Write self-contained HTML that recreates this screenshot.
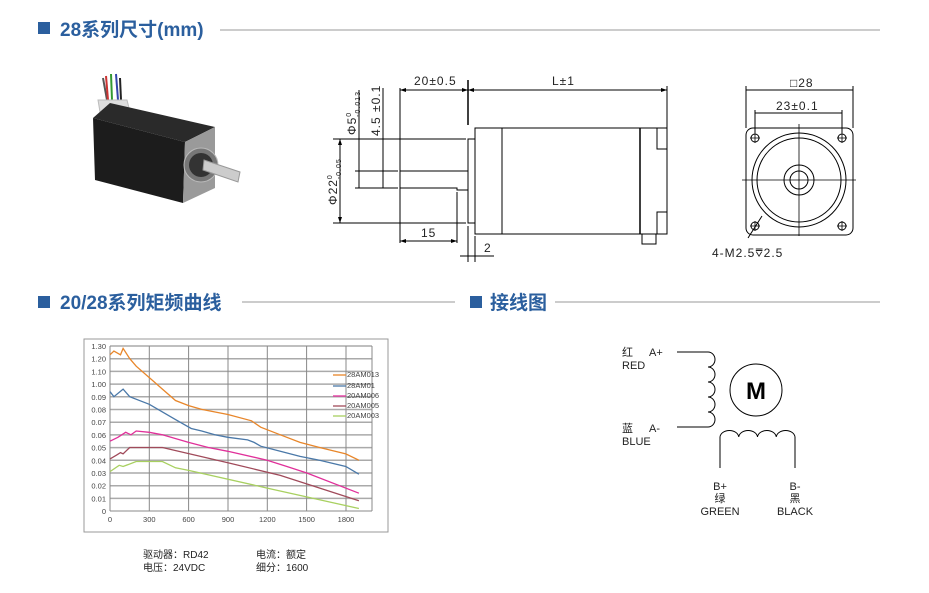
<!DOCTYPE html>
<html><head><meta charset="utf-8"><style>
body{margin:0;background:#fff;width:929px;height:593px;overflow:hidden}
svg{display:block}
.h{font-family:"Liberation Sans","Noto Sans CJK SC",sans-serif;font-weight:bold;font-size:19px;fill:#2b5f9e}
.t{font-family:"Liberation Sans","Noto Sans CJK SC",sans-serif;fill:#222}
.c{font-family:"Liberation Sans",sans-serif;font-size:7.5px;fill:#444}
</style></head><body>
<svg width="929" height="593" viewBox="0 0 929 593">
<!-- headers -->
<rect x="38" y="22" width="12" height="12" fill="#2b5f9e"/>
<text class="h" x="60" y="36">28系列尺寸(mm)</text>
<line x1="220" y1="30" x2="880" y2="30" stroke="#ccc" stroke-width="2"/>
<rect x="38" y="296" width="12" height="12" fill="#2b5f9e"/>
<text class="h" x="60" y="309">20/28系列矩频曲线</text>
<line x1="242" y1="302" x2="455" y2="302" stroke="#ccc" stroke-width="2"/>
<rect x="470" y="296" width="12" height="12" fill="#2b5f9e"/>
<text class="h" x="490" y="309">接线图</text>
<line x1="555" y1="302" x2="880" y2="302" stroke="#ccc" stroke-width="2"/>

<!-- photo -->
<g>
<path d="M103 78 L107 100" stroke="#555" stroke-width="2"/>
<path d="M106 76 L108 100" stroke="#c33" stroke-width="2"/><path d="M111 74 L112 100" stroke="#393" stroke-width="2"/><path d="M116 74 L118 100" stroke="#34a" stroke-width="2"/><path d="M120 78 L121 100" stroke="#222" stroke-width="2"/>
<polygon points="98,100 127,100 130,112 100,112" fill="#ddd" stroke="#bbb"/>
<polygon points="93,118 110,103 215,127 185,142" fill="#2a2a2a"/>
<polygon points="93,118 185,142 183,203 95,180" fill="#1c1c1c"/>
<polygon points="185,142 215,127 215,188 183,203" fill="#9a9a9a"/>
<circle cx="201" cy="165" r="17" fill="#777" stroke="#bbb"/>
<circle cx="201" cy="165" r="12" fill="#333"/>
<polygon points="204,160 240,172 238,182 203,170" fill="#ccc" stroke="#999"/>
</g>

<!-- side dimension drawing -->
<g stroke="#000" stroke-width="1" fill="none">
<rect x="475" y="128" width="192" height="106"/>
<line x1="502" y1="128" x2="502" y2="234"/>
<line x1="640" y1="128" x2="640" y2="234" stroke-width="1.5"/>
<rect x="657" y="128" width="10" height="21"/>
<rect x="657" y="212" width="10" height="22"/>
<rect x="642" y="234" width="14" height="10"/>
<rect x="468" y="139" width="7" height="84"/>
<line x1="333" y1="139" x2="466" y2="139"/><line x1="333" y1="223" x2="466" y2="223"/>
<polyline points="400,171 468,171"/><polyline points="400,188 457,188 457,190 468,190"/>
<line x1="400" y1="88" x2="400" y2="243"/>
<line x1="468" y1="80" x2="468" y2="125" stroke-width="1.5"/>
<line x1="468" y1="226" x2="468" y2="262"/><line x1="475" y1="236" x2="475" y2="262"/>
<line x1="667" y1="86" x2="667" y2="128"/>
<line x1="400" y1="90" x2="667" y2="90"/>
<line x1="457" y1="192" x2="457" y2="243"/>
<line x1="400" y1="241" x2="457" y2="241"/>
<line x1="460" y1="256" x2="494" y2="256"/>
<line x1="340" y1="139" x2="340" y2="223"/>
<line x1="359" y1="90" x2="359" y2="188"/><line x1="355" y1="171" x2="398" y2="171"/><line x1="355" y1="188" x2="398" y2="188"/>
<line x1="383" y1="88" x2="383" y2="188"/>
</g>
<g fill="#000">
<polygon points="400,90 406,88 406,92"/><polygon points="468,90 462,88 462,92"/><polygon points="468,90 474,88 474,92"/><polygon points="667,90 661,88 661,92"/>
<polygon points="400,241 406,239 406,243"/><polygon points="457,241 451,239 451,243"/>
<polygon points="340,139 338,145 342,145"/><polygon points="340,223 338,217 342,217"/>
</g>
<g class="t" font-size="12" letter-spacing="1">
<text x="414" y="85">20±0.5</text><text x="552" y="85">L±1</text>
<text x="421" y="237">15</text><text x="484" y="252">2</text>
<text transform="translate(337,205) rotate(-90)">Φ22<tspan font-size="7" dy="-5">0</tspan><tspan font-size="7" dx="-5" dy="9">-0.05</tspan></text>
<text transform="translate(356,135) rotate(-90)">Φ5<tspan font-size="7" dy="-5">0</tspan><tspan font-size="7" dx="-5" dy="9">-0.013</tspan></text>
<text transform="translate(380,136) rotate(-90)">4.5 ±0.1</text>
</g>

<!-- front view -->
<g stroke="#000" fill="none">
<rect x="746" y="128" width="107" height="107" rx="7"/>
<circle cx="799" cy="180" r="47"/><circle cx="799" cy="180" r="42"/>
<circle cx="799" cy="180" r="15"/><circle cx="799" cy="180" r="9"/>
<line x1="742" y1="180" x2="856" y2="180" stroke-width="0.8"/><line x1="799" y1="124" x2="799" y2="236" stroke-width="0.8"/>
<circle cx="755" cy="138" r="4"/><circle cx="842" cy="138" r="4"/><circle cx="755" cy="226" r="4"/><circle cx="842" cy="226" r="4"/>
<path d="M750 138h10M755 133v10M837 138h10M842 133v10M750 226h10M755 221v10M837 226h10M842 221v10" stroke-width="0.8"/>
<line x1="746" y1="86" x2="746" y2="128"/><line x1="853" y1="86" x2="853" y2="128"/>
<line x1="746" y1="90" x2="853" y2="90"/>
<line x1="755" y1="110" x2="755" y2="133"/><line x1="842" y1="110" x2="842" y2="133"/>
<line x1="755" y1="113" x2="842" y2="113"/>
<line x1="748" y1="238" x2="762" y2="216"/>
</g>
<g class="t" font-size="12" letter-spacing="1"><text x="790" y="87">□28</text><text x="776" y="110">23±0.1</text><text x="712" y="257">4-M2.5⩢2.5</text></g>

<!-- chart -->
<rect x="84" y="339" width="304" height="193" fill="#fff" stroke="#999"/>
<g stroke="#aaa" stroke-width="1.5">
<line x1="110" y1="346" x2="372" y2="346"/><line x1="110" y1="358.7" x2="372" y2="358.7"/><line x1="110" y1="371.4" x2="372" y2="371.4"/><line x1="110" y1="384.1" x2="372" y2="384.1"/><line x1="110" y1="396.8" x2="372" y2="396.8"/><line x1="110" y1="409.5" x2="372" y2="409.5"/><line x1="110" y1="422.2" x2="372" y2="422.2"/><line x1="110" y1="434.9" x2="372" y2="434.9"/><line x1="110" y1="447.6" x2="372" y2="447.6"/><line x1="110" y1="460.3" x2="372" y2="460.3"/><line x1="110" y1="473" x2="372" y2="473"/><line x1="110" y1="485.7" x2="372" y2="485.7"/><line x1="110" y1="498.4" x2="372" y2="498.4"/>
</g>
<g stroke="#888" stroke-width="1">
<line x1="149.3" y1="346" x2="149.3" y2="511"/><line x1="188.6" y1="346" x2="188.6" y2="511"/><line x1="228" y1="346" x2="228" y2="511"/><line x1="267.3" y1="346" x2="267.3" y2="511"/><line x1="306.6" y1="346" x2="306.6" y2="511"/><line x1="346" y1="346" x2="346" y2="511"/><line x1="372" y1="346" x2="372" y2="511"/>
<line x1="110" y1="346" x2="110" y2="511"/><line x1="110" y1="511" x2="372" y2="511"/>
</g>
<g class="c" text-anchor="end">
<text x="106" y="349">1.30</text><text x="106" y="361.7">1.20</text><text x="106" y="374.4">1.10</text><text x="106" y="387.1">1.00</text><text x="106" y="399.8">0.09</text><text x="106" y="412.5">0.08</text><text x="106" y="425.2">0.07</text><text x="106" y="437.9">0.06</text><text x="106" y="450.6">0.05</text><text x="106" y="463.3">0.04</text><text x="106" y="476">0.03</text><text x="106" y="488.7">0.02</text><text x="106" y="501.4">0.01</text><text x="106" y="514">0</text>
</g>
<g class="c" text-anchor="middle"><text x="110" y="522">0</text><text x="149.3" y="522">300</text><text x="188.6" y="522">600</text><text x="228" y="522">900</text><text x="267.3" y="522">1200</text><text x="306.6" y="522">1500</text><text x="346" y="522">1800</text></g>
<g fill="none" stroke-width="1.3">
<polyline stroke="#e8862a" points="110,354.8 113.9,351 120.5,354.8 123.1,348.4 129.7,358.6 136.2,366.2 149.3,377.6 162.4,389.1 175.5,400.5 188.6,405.6 201.7,409.4 227.9,414.5 251.5,420.8 260.7,427.2 280.3,434.8 300,442.4 319.6,447.5 345.8,453.9 358.9,460.2"/>
<polyline stroke="#4a78a8" points="110,391.6 113.9,396.7 123.1,389.1 129.7,396.7 149.3,404.3 162.4,411.9 175.5,419.6 191.2,428.5 201.7,431 214.8,434.8 227.9,437.3 247.6,439.9 254.1,442.4 260.7,446.2 280.3,451.3 300,456.4 319.6,460.2 345.8,466.5 358.9,474.2"/>
<polyline stroke="#e0309a" points="110,441.2 117.9,437.3 125.7,432.3 131,434.8 136.2,431 149.3,432.3 162.4,434.8 188.6,442.4 208.3,447.5 227.9,451.3 267.2,460.2 286.9,466.5 306.5,472.9 358.9,493.2"/>
<polyline stroke="#a04a5a" points="110,458.9 116.6,455.1 120.5,452.6 123.1,453.8 129.7,447.5 162.4,447.5 227.9,462.7 280.3,475.4 358.9,500.8"/>
<polyline stroke="#a8d060" points="110,471.6 119.2,465.3 123.1,466.5 136.2,461.5 162.4,461.5 175.5,467.8 188.6,470.4 267.2,488.1 358.9,508.5"/>
</g>
<g stroke-width="1.3">
<line x1="333" y1="375" x2="346" y2="375" stroke="#e8862a"/><line x1="333" y1="386" x2="346" y2="386" stroke="#4a78a8"/><line x1="333" y1="396" x2="346" y2="396" stroke="#e0309a"/><line x1="333" y1="406" x2="346" y2="406" stroke="#a04a5a"/><line x1="333" y1="416" x2="346" y2="416" stroke="#a8d060"/>
</g>
<g class="c" font-size="5.5"><text x="347" y="377">28AM013</text><text x="347" y="388">28AM01</text><text x="347" y="398">20AM006</text><text x="347" y="408">20AM005</text><text x="347" y="418">20AM003</text></g>
<g class="t" font-size="10"><text x="143" y="558">驱动器：RD42</text><text x="256" y="558">电流：额定</text><text x="143" y="571">电压：24VDC</text><text x="256" y="571">细分：1600</text></g>

<!-- wiring -->
<g stroke="#000" fill="none" stroke-width="1">
<path d="M677 352 H708 a7 7.5 0 0 1 0 15 a7 7.5 0 0 1 0 15 a7 7.5 0 0 1 0 15 a7 7.5 0 0 1 0 15 a7 7.5 0 0 1 0 15 H677"/>
<path d="M720 468 V437 a9.4 7 0 0 1 18.75 0 a9.4 7 0 0 1 18.75 0 a9.4 7 0 0 1 18.75 0 a9.4 7 0 0 1 18.75 0 V468"/>
<circle cx="756" cy="390" r="26"/>
</g>
<text x="756" y="399" text-anchor="middle" font-family="Liberation Sans,sans-serif" font-weight="bold" font-size="24" fill="#000">M</text>
<g class="t" font-size="11" fill="#000">
<text x="622" y="356">红</text><text x="649" y="356">A+</text><text x="622" y="369">RED</text>
<text x="622" y="432">蓝</text><text x="649" y="432">A-</text><text x="622" y="445">BLUE</text>
<text x="720" y="490" text-anchor="middle">B+</text><text x="720" y="502" text-anchor="middle">绿</text><text x="720" y="515" text-anchor="middle">GREEN</text>
<text x="795" y="490" text-anchor="middle">B-</text><text x="795" y="502" text-anchor="middle">黑</text><text x="795" y="515" text-anchor="middle">BLACK</text>
</g>
</svg>
</body></html>
